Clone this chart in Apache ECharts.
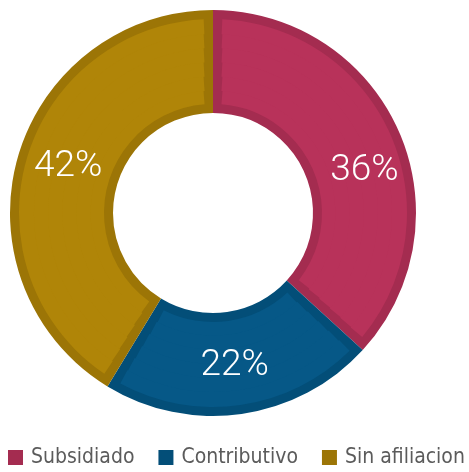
<!DOCTYPE html>
<html>
<head>
<meta charset="utf-8">
<script src="https://cdn.jsdelivr.net/npm/echarts@6/dist/echarts.min.js"></script>
<style>
html,body{margin:0;padding:0;background:#fff;}
#chart{width:469px;height:472px;}
</style>
</head>
<body>
<div id="chart"></div>
<script>
// ---- data ----
var categories = ['Subsidiado', 'Contributivo', 'Sin afiliacion'];
var values = [36.8, 21.9, 41.3];          // shares
var labels = ['36%', '22%', '42%'];        // printed labels
var fillColors = ['#b8325a', '#065887', '#b08508'];
var edgeColors = ['#a42c50', '#034e78', '#9c7506'];

var chart = echarts.init(document.getElementById('chart'), null, {renderer: 'canvas'});

var CX = 213, CY = 213, R_IN = 100, R_OUT = 203, EDGE = 9;
var FONT = '"Liberation Sans Narrow", "DejaVu Sans Condensed", Roboto, sans-serif';
var LABEL_FONT = 'Roboto, "DejaVu Sans Condensed", sans-serif';

function makeData(colors) {
  return categories.map(function (name, i) {
    return {name: name, value: values[i], itemStyle: {color: colors[i], borderWidth: 0, borderRadius: 0}};
  });
}

var series = [];
// base ring: darker edge colour over the full band
series.push({
  type: 'pie',
  center: [CX, CY],
  radius: [R_IN, R_OUT],
  startAngle: 90,
  silent: true,
  z: 1,
  itemStyle: {borderWidth: 0, borderRadius: 0},
  label: {show: false},
  labelLine: {show: false},
  data: makeData(edgeColors)
});

// inner fill rings inset by EDGE px; padAngle tuned per ring so the side edges stay ~EDGE px
var inner0 = R_IN + EDGE, outer0 = R_OUT - EDGE, nRings = 6;
var step = (outer0 - inner0) / nRings;
for (var k = 0; k < nRings; k++) {
  var r0 = inner0 + k * step, r1 = inner0 + (k + 1) * step;
  var rm = (r0 + r1) / 2;
  var pad = (2 * EDGE / rm) * 180 / Math.PI;
  series.push({
    type: 'pie',
    center: [CX, CY],
    radius: [k === 0 ? r0 : r0 - 0.8, r1],
    startAngle: 90,
    padAngle: pad,
    silent: true,
    z: 2 + k,
    itemStyle: {borderWidth: 0, borderRadius: 0},
    label: {show: false},
    labelLine: {show: false},
    data: makeData(fillColors)
  });
}
// labels on top
series.push({
  type: 'pie',
  center: [CX, CY],
  radius: [R_IN, R_OUT],
  startAngle: 90,
  silent: true,
  avoidLabelOverlap: false,
  z: 20,
  itemStyle: {color: 'rgba(0,0,0,0)', borderWidth: 0},
  label: {
    show: true,
    position: 'inside',
    formatter: function (p) { return labels[p.dataIndex]; },
    color: '#ffffff',
    fontSize: 37,
    fontWeight: 300,
    fontFamily: LABEL_FONT
  },
  labelLine: {show: false},
  data: categories.map(function (name, i) {
    var item = {name: name, value: values[i], itemStyle: {color: 'rgba(0,0,0,0)'}};
    if (i === 0) item.label = {offset: [10, 20]};
    if (i === 2) item.label = {offset: [4, -5]};
    return item;
  })
});

chart.setOption({
  animation: false,
  legend: {
    left: 8,
    width: 461,
    bottom: 4,
    padding: 0,
    icon: 'rect',
    itemWidth: 15,
    itemHeight: 15,
    itemGap: 24,
    selectedMode: false,
    textStyle: {fontSize: 21, color: '#5b5b5b', fontFamily: FONT, padding: [0, 0, 0, 3]},
    data: categories.map(function (n, i) { return {name: n, itemStyle: {color: edgeColors[i]}}; })
  },
  series: series
});
</script>
</body>
</html>
